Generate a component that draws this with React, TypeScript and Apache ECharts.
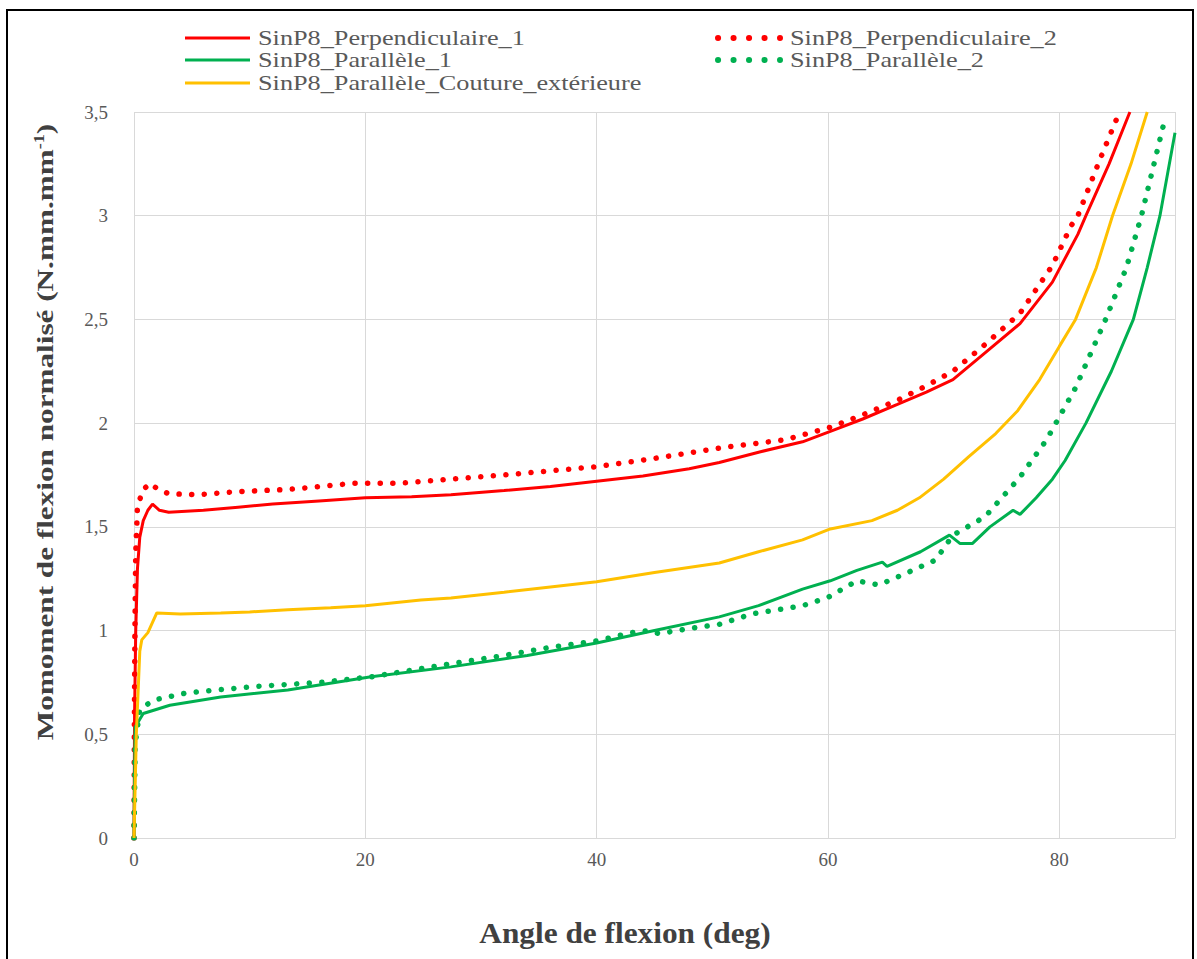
import React, { useEffect, useRef } from "react";
import * as echarts from "echarts";

const seriesNames = [
  "SinP8_Perpendiculaire_1",
  "SinP8_Perpendiculaire_2",
  "SinP8_Parallèle_1",
  "SinP8_Parallèle_2",
  "SinP8_Parallèle_Couture_extérieure",
];

const xTicks = [0, 20, 40, 60, 80];
const yTicks = [0, 0.5, 1, 1.5, 2, 2.5, 3, 3.5];

const perp1: [number, number][] = [
  [0, 0], [0.05, 0.6], [0.15, 1.0], [0.3, 1.3], [0.5, 1.45], [0.8, 1.53], [1.2, 1.58], [1.6, 1.61],
  [2.2, 1.58], [3, 1.57], [6, 1.58], [9, 1.595], [12, 1.61], [16, 1.625], [20, 1.64], [24, 1.645],
  [27.4, 1.655], [32, 1.675], [36, 1.695], [40, 1.72], [44, 1.745], [48, 1.78], [50.6, 1.81],
  [54, 1.86], [57.8, 1.91], [60.2, 1.96], [63, 2.02], [66, 2.09], [68.5, 2.15], [70.8, 2.21],
  [73.6, 2.34], [76.6, 2.48], [79.4, 2.68], [81.6, 2.91], [82.3, 3.0], [84.3, 3.25], [86.1, 3.5],
];

const perp2: [number, number][] = [
  [0, 0], [0.03, 0.5], [0.08, 1.0], [0.15, 1.37], [0.3, 1.6], [0.8, 1.68], [1.4, 1.71], [2.1, 1.68],
  [3, 1.66], [5.5, 1.655], [8.9, 1.67], [13.3, 1.68], [19, 1.71], [23, 1.71], [27.4, 1.73],
  [32, 1.75], [36, 1.77], [40, 1.79], [45, 1.83], [50.6, 1.88], [56.3, 1.92], [60.2, 1.98],
  [63, 2.04], [66, 2.11], [68.5, 2.18], [70.8, 2.25], [73.6, 2.38], [76.6, 2.53], [79.4, 2.76],
  [81.0, 2.95], [81.6, 3.0], [83.5, 3.27], [85.2, 3.5],
];

const para1: [number, number][] = [
  [0, 0], [0.1, 0.535], [0.8, 0.6], [3.1, 0.64], [7.5, 0.68], [13.3, 0.714], [20.5, 0.777],
  [27.4, 0.825], [34, 0.88], [40, 0.94], [45, 1.0], [50.6, 1.066], [54, 1.12], [57.8, 1.2],
  [60.2, 1.24], [62.5, 1.29], [64.7, 1.33], [65.1, 1.31], [68, 1.38], [70.5, 1.46], [71.4, 1.42],
  [72.5, 1.42], [74, 1.5], [76, 1.58], [76.6, 1.56], [78, 1.64], [79.4, 1.73], [80.5, 1.82],
  [82.3, 2.0], [84.5, 2.25], [86.4, 2.5], [87.6, 2.75], [88.7, 3.0], [90, 3.4],
];

const para2: [number, number][] = [
  [0, 0], [0.1, 0.45], [0.5, 0.62], [1.7, 0.665], [4.6, 0.7], [10.3, 0.73], [16.1, 0.75],
  [20.5, 0.777], [27.4, 0.84], [32, 0.88], [36.1, 0.92], [40, 0.95], [43, 0.99], [44.5, 1.0],
  [45.4, 0.985], [48, 1.01], [50.6, 1.03], [53.4, 1.08], [57.8, 1.12], [60, 1.16], [62.5, 1.24],
  [64.4, 1.22], [66.5, 1.27], [69.3, 1.34], [70.8, 1.46], [73.6, 1.55], [76.6, 1.74],
  [78.9, 1.92], [79.7, 2.0], [81.4, 2.17], [84, 2.5], [85.8, 2.75], [87.1, 3.0], [89.1, 3.46],
];

const couture: [number, number][] = [
  [0, 0], [0.2, 0.5], [0.5, 0.9], [0.67, 0.955], [1.2, 0.99], [1.97, 1.085], [4, 1.08],
  [7.5, 1.085], [10, 1.09], [13.3, 1.1], [17, 1.11], [20, 1.12], [24.8, 1.147], [27.4, 1.157],
  [32, 1.185], [36, 1.21], [40, 1.235], [45, 1.28], [50.6, 1.326], [54, 1.38], [57.8, 1.437],
  [60.2, 1.49], [63.8, 1.53], [66, 1.58], [67.9, 1.64], [70, 1.73], [72.2, 1.84], [74.5, 1.95],
  [76.4, 2.06], [78.3, 2.21], [80, 2.37], [81.4, 2.5], [83.2, 2.75], [84.6, 3.0], [86.2, 3.25],
  [87.6, 3.5],
];

const RED = "#ff0000";
const GREEN = "#00b050";
const YELLOW = "#ffc000";
const SERIF = "'Liberation Serif', 'DejaVu Serif', serif";

export default function App() {
  const ref = useRef<HTMLDivElement>(null);
  useEffect(() => {
    if (!ref.current) return;
    const chart = echarts.init(ref.current, undefined, { renderer: "svg" });
    const solid = (color: string) => ({ color, width: 3, type: "solid" as const });
    const dotted = (color: string) => ({ color, width: 5.5, type: [0.1, 12.5], cap: "round" as const });
    const mk = (name: string, data: [number, number][], lineStyle: any, color: string) => ({
      name,
      type: "line",
      data,
      showSymbol: false,
      symbol: "none",
      smooth: false,
      color,
      lineStyle,
      z: 3,
    });

    const legendText = (x: number, y: number, text: string) => ({
      type: "text",
      x,
      y,
      scaleX: 1.25,
      style: {
        text,
        fontFamily: SERIF,
        fontSize: 21,
        fill: "#595959",
        align: "left",
        verticalAlign: "middle",
      },
      silent: true,
    });
    const legendSolid = (y: number, color: string) => ({
      type: "line",
      shape: { x1: 185, y1: y, x2: 250, y2: y },
      style: { stroke: color, lineWidth: 3 },
      silent: true,
    });
    const legendDotted = (y: number, color: string) => ({
      type: "line",
      shape: { x1: 718, y1: y, x2: 780, y2: y },
      style: { stroke: color, lineWidth: 6, lineDash: [0.1, 15.4], lineCap: "round" },
      silent: true,
    });

    chart.setOption({
      animation: false,
      backgroundColor: "#ffffff",
      grid: { left: 134, right: 22, top: 112, bottom: 121, containLabel: false },
      xAxis: {
        type: "value",
        min: 0,
        max: 90,
        interval: 20,
        axisLine: { show: true, lineStyle: { color: "#d9d9d9", width: 1 } },
        axisTick: { show: false },
        splitLine: { show: true, lineStyle: { color: "#d9d9d9", width: 1 } },
        axisLabel: {
          margin: 12,
          color: "#595959",
          fontFamily: SERIF,
          fontSize: 19,
          formatter: (v: number) => (xTicks.includes(v) ? String(v) : ""),
        },
      },
      yAxis: {
        type: "value",
        min: 0,
        max: 3.5,
        interval: 0.5,
        axisLine: { show: false },
        axisTick: { show: false },
        splitLine: { show: true, lineStyle: { color: "#d9d9d9", width: 1 } },
        axisLabel: {
          margin: 26,
          color: "#595959",
          fontFamily: SERIF,
          fontSize: 19,
          formatter: (v: number) => (yTicks.includes(v) ? String(v).replace(".", ",") : ""),
        },
      },
      graphic: [
        {
          type: "rect",
          shape: { x: 7, y: 10, width: 1186, height: 960 },
          style: { fill: "none", stroke: "#000000", lineWidth: 2 },
          silent: true,
        },
        legendSolid(38, RED),
        legendText(258, 38, seriesNames[0]),
        legendSolid(60, GREEN),
        legendText(258, 60, seriesNames[2]),
        legendSolid(83, YELLOW),
        legendText(258, 83, seriesNames[4]),
        legendDotted(38, RED),
        legendText(790, 38, seriesNames[1]),
        legendDotted(60, GREEN),
        legendText(790, 60, seriesNames[3]),
        {
          type: "text",
          x: 625,
          y: 933,
          scaleX: 1.08,
          style: {
            text: "Angle de flexion (deg)",
            fontFamily: SERIF,
            fontWeight: "bold",
            fontSize: 29,
            fill: "#404040",
            align: "center",
            verticalAlign: "middle",
          },
          silent: true,
        },
        {
          type: "text",
          x: 45,
          y: 432,
          rotation: Math.PI / 2,
          scaleX: 1.3,
          style: {
            text: "{a|Momoment de flexion normalisé (N.mm.mm}{s|-1}{a|)}",
            align: "center",
            verticalAlign: "middle",
            rich: {
              a: { fontFamily: SERIF, fontWeight: "bold", fontSize: 24, fill: "#404040" },
              s: { fontFamily: SERIF, fontWeight: "bold", fontSize: 14, fill: "#404040", verticalAlign: "top", padding: [0, 0, 10, 0] },
            },
          },
          silent: true,
        },
      ],
      series: [
        mk(seriesNames[0], perp1, solid(RED), RED),
        mk(seriesNames[1], perp2, dotted(RED), RED),
        mk(seriesNames[2], para1, solid(GREEN), GREEN),
        mk(seriesNames[3], para2, dotted(GREEN), GREEN),
        mk(seriesNames[4], couture, solid(YELLOW), YELLOW),
      ],
    });
    return () => chart.dispose();
  }, []);
  return (
    <div
      ref={ref}
      style={{ position: "fixed", left: 0, top: 0, width: 1197, height: 959 }}
    />
  );
}
